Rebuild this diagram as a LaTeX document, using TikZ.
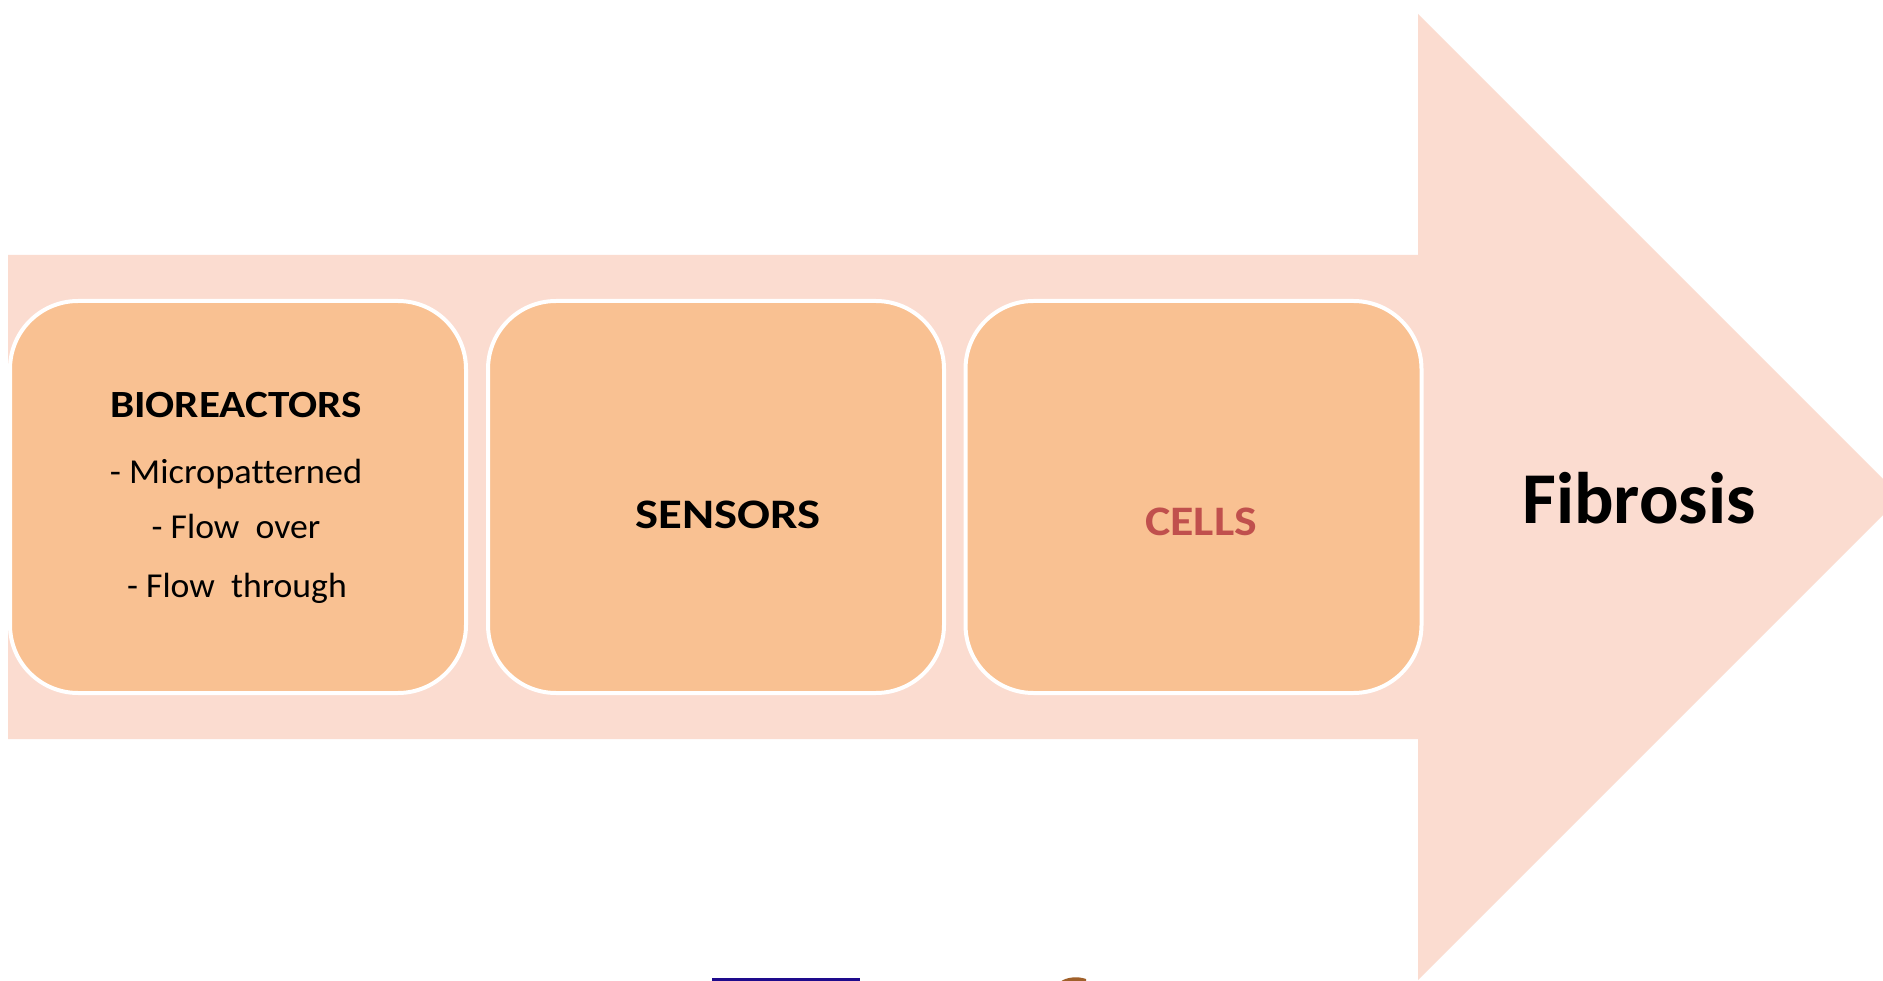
\documentclass[tikz,border=0pt]{standalone}
\usepackage{fontspec}
\usepackage{graphicx}
\setmainfont[Ligatures=NoCommon]{Carlito}
\definecolor{shaft}{HTML}{FBDCD0}
\definecolor{boxfill}{HTML}{F9C192}
\definecolor{cellred}{HTML}{C0504D}
\definecolor{barblue}{HTML}{1E0A8C}
\definecolor{brownish}{HTML}{A0602A}
\newcommand{\wide}[2]{\scalebox{#1}[1]{#2}}
\tikzset{
  stagebox/.style={draw=white, line width=4pt, fill=boxfill, rounded corners=68pt,
    minimum width=456pt, minimum height=392pt, inner sep=0pt},
  boldtxt/.style={font=\bfseries\fontsize{42}{50}\selectfont, anchor=base, inner sep=0pt},
  titletxt/.style={font=\bfseries\fontsize{38.5}{46}\selectfont, anchor=base, inner sep=0pt},
  itemtxt/.style={font=\fontsize{35}{42}\selectfont, anchor=base, inner sep=0pt}
}
\begin{document}
\begin{tikzpicture}[x=1pt, y=-1pt]
\useasboundingbox (0,0) rectangle (1883,981);
\clip (0,0) rectangle (1883,981);
\fill[white] (0,0) rectangle (1883,981);
% big arrow
\fill[shaft] (8,255) -- (1418,255) -- (1418,14) -- (1901,497) -- (1418,980) -- (1418,739) -- (8,739) -- cycle;
% stage boxes
\node[stagebox] (box1) at (238,497) {};
\node[stagebox] (box2) at (716,497) {};
\node[stagebox] (box3) at (1193.5,497) {};
% texts
\node[titletxt] (t1) at (236,418) {\wide{1.12}{BIOREACTORS}};
\node[itemtxt] (t2) at (236,483) {\wide{1.04}{- Micropatterned}};
\node[itemtxt] (t3) at (236,538) {\wide{1.02}{- Flow\ \ over}};
\node[itemtxt] (t4) at (237,597) {\wide{1.02}{- Flow\ \ through}};
\node[boldtxt] (sens) at (728,528) {\wide{1.16}{SENSORS}};
\node[boldtxt, text=cellred] (cells) at (1201,535) {\wide{1.14}{CELLS}};
\node[font=\bfseries\fontsize{73}{80}\selectfont, anchor=base, inner sep=0pt] (fib) at (1639,523) {\wide{1.01}{Fibrosis}};
% cut-off fragments at bottom edge
\fill[barblue] (712,978) rectangle (860,982);
\fill[brownish] (1060,982) .. controls (1066,977) and (1078,976) .. (1086,979) -- (1086,982) -- cycle;
\end{tikzpicture}
\end{document}
